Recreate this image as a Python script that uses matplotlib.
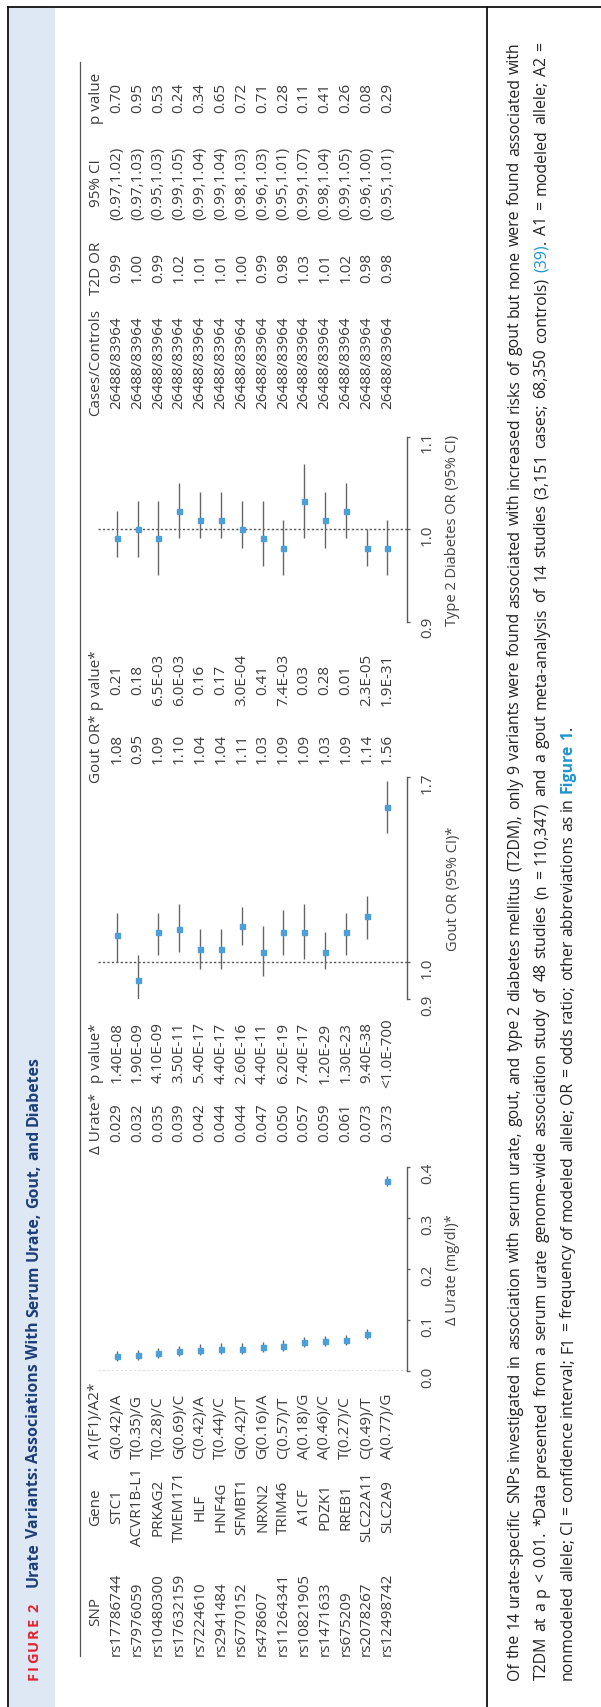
import numpy as np
import matplotlib
matplotlib.use("Agg")
from matplotlib import pyplot as plt
from matplotlib.lines import Line2D
from matplotlib.patches import Rectangle
from matplotlib.ticker import FixedLocator, NullLocator
from matplotlib.transforms import blended_transform_factory


#  -------------------------------------------  data  ------------------------------------------  #

snps = ["rs17786744", "rs7976059", "rs10480300", "rs17632159", "rs7224610", "rs2941484", "rs6770152",
        "rs478607", "rs11264341", "rs10821905", "rs1471633", "rs675209", "rs2078267", "rs12498742"]
genes = ["STC1", "ACVR1B-L1", "PRKAG2", "TMEM171", "HLF", "HNF4G", "SFMBT1",
         "NRXN2", "TRIM46", "A1CF", "PDZK1", "RREB1", "SLC22A11", "SLC2A9"]
alleles = ["G(0.42)/A", "T(0.35)/G", "T(0.28)/C", "G(0.69)/C", "C(0.42)/A", "T(0.44)/C", "G(0.42)/T",
           "G(0.16)/A", "C(0.57)/T", "A(0.18)/G", "A(0.46)/C", "T(0.27)/C", "C(0.49)/T", "A(0.77)/G"]

urate = [0.029, 0.032, 0.035, 0.039, 0.042, 0.044, 0.044, 0.047, 0.050, 0.057, 0.059, 0.061, 0.073, 0.373]
urate_lo = [0.019, 0.022, 0.025, 0.029, 0.032, 0.034, 0.034, 0.037, 0.040, 0.047, 0.049, 0.051, 0.063, 0.363]
urate_hi = [0.039, 0.042, 0.045, 0.049, 0.052, 0.054, 0.054, 0.057, 0.060, 0.067, 0.069, 0.071, 0.083, 0.383]
urate_p = ["1.40E-08", "1.90E-09", "4.10E-09", "3.50E-11", "5.40E-17", "4.40E-17", "2.60E-16",
           "4.40E-11", "6.20E-19", "7.40E-17", "1.20E-29", "1.30E-23", "9.40E-38", "<1.0E-700"]

gout_or = [1.08, 0.95, 1.09, 1.10, 1.04, 1.04, 1.11, 1.03, 1.09, 1.09, 1.03, 1.09, 1.14, 1.56]
gout_lo = [1.00, 0.90, 1.02, 1.03, 0.98, 0.98, 1.05, 0.96, 1.02, 1.01, 0.98, 1.02, 1.07, 1.45]
gout_hi = [1.15, 1.02, 1.15, 1.18, 1.10, 1.10, 1.17, 1.11, 1.16, 1.18, 1.09, 1.15, 1.21, 1.68]
gout_p = ["0.21", "0.18", "6.5E-03", "6.0E-03", "0.16", "0.17", "3.0E-04",
          "0.41", "7.4E-03", "0.03", "0.28", "0.01", "2.3E-05", "1.9E-31"]

cases = ["26488/83964"] * 14
t2d_or = [0.99, 1.00, 0.99, 1.02, 1.01, 1.01, 1.00, 0.99, 0.98, 1.03, 1.01, 1.02, 0.98, 0.98]
t2d_lo = [0.97, 0.97, 0.95, 0.99, 0.99, 0.99, 0.98, 0.96, 0.95, 0.99, 0.98, 0.99, 0.96, 0.95]
t2d_hi = [1.02, 1.03, 1.03, 1.05, 1.04, 1.04, 1.03, 1.03, 1.01, 1.07, 1.04, 1.05, 1.00, 1.01]
t2d_p = ["0.70", "0.95", "0.53", "0.24", "0.34", "0.65", "0.72", "0.71", "0.28", "0.11", "0.41", "0.26", "0.08", "0.29"]

title = "Urate Variants: Associations With Serum Urate, Gout, and Diabetes"
caption = [
    "Of the 14 urate-specific SNPs investigated in association with serum urate, gout, and type 2 diabetes "
    "mellitus (T2DM), only 9 variants were found associated with increased risks of gout but none were "
    "found associated with",
    "T2DM at a p < 0.01. *Data presented from a serum urate genome-wide association study of 48 studies "
    "(n = 110,347) and a gout meta-analysis of 14 studies (3,151 cases; 68,350 controls) (39). A1 = modeled allele; A2 =",
    "nonmodeled allele; CI = confidence interval; F1 = frequency of modeled allele; OR = odds ratio; "
    "other abbreviations as in Figure 1.",
]


#  -------------------------------------------  setup  -----------------------------------------  #

plt.rcParams["font.family"] = ["Open Sans", "DejaVu Sans"]

W, H = 601, 1708
fig = plt.figure(figsize=(W / 100, H / 100), dpi=100)
renderer = fig.canvas.get_renderer()

TXT = "#3c3c3c"
AX = "#5a5a5a"
BLUE = "#4d9fd9"
LINK = "#1e95cf"


def fx(x):
    return x / W


def fy(y):
    return 1 - y / H


# frame, title band and caption divider
fig.add_artist(Rectangle((fx(8), 0), fx(55) - fx(8), fy(8), transform=fig.transFigure,
                         color="#dde8f4", lw=0, zorder=0))
for xs, ys in [((8, 601), (8, 8)), ((8, 8), (8, H)), ((487, 487), (8, H))]:
    fig.add_artist(Line2D([fx(v) for v in xs], [fy(v) for v in ys], transform=fig.transFigure,
                          color="#111111", lw=1.3))
fig.add_artist(Line2D([fx(80), fx(80)], [fy(63), fy(1657)], transform=fig.transFigure, color="#555555", lw=0.9))


#  -------------------------------------------  runs of words  ---------------------------------  #

def length(t):
    return t.get_window_extent(renderer).height


def place_words(x, y0, words, y1=None, size=10.5, color="#222222", weight="normal"):
    # words: list of lists of (text, style) pieces, laid out bottom to top
    placed = []
    for word in words:
        segs = []
        for s, style in word:
            kw = dict(color=color, weight=weight)
            kw.update(style)
            t = fig.text(fx(x), 0, s, rotation=90, rotation_mode="anchor", ha="left", va="center",
                         fontsize=size, **kw)
            segs.append((t, length(t)))
        placed.append(segs)
    probe_a = fig.text(0, 0, "n n", fontsize=size, weight=weight, rotation=90)
    probe_b = fig.text(0, 0, "nn", fontsize=size, weight=weight, rotation=90)
    gap = length(probe_a) - length(probe_b)
    probe_a.remove()
    probe_b.remove()
    total = sum(l for segs in placed for _, l in segs)
    if y1 is not None and len(placed) > 1:
        gap = (y0 - y1 - total) / (len(placed) - 1)
    y = y0
    for segs in placed:
        for t, l in segs:
            t.set_y(fy(y))
            y -= l
        y -= gap


def caption_words(line):
    words = []
    for w in line.split(" "):
        if w == "(39).":
            words.append([("(39)", dict(color=LINK)), (".", {})])
        elif w == "Figure":
            words.append([("Figure", dict(color=LINK, weight="bold"))])
        elif w == "1." and "Figure" in line:
            words.append([("1", dict(color=LINK, weight="bold")), (".", {})])
        else:
            words.append([(w, {})])
    return words


# title
place_words(34, 1680, [[(c, {})] for c in "FIGURE"], y1=1618, size=10.5, color="#e42330", weight="bold")
place_words(34, 1612, [[("2", {})]], size=10.5, color="#e42330", weight="bold")
place_words(34, 1587, [[(w, {})] for w in title.split(" ")], size=11.4, color="#1d3f7a", weight="bold")

# caption
place_words(515, 1680, caption_words(caption[0]), y1=42, size=11.4)
place_words(541.5, 1680, caption_words(caption[1]), y1=42, size=11.4)
place_words(568, 1680, caption_words(caption[2]), size=11.4)


#  -------------------------------------------  forest panels  ---------------------------------  #

rows = np.arange(len(snps))
x_left, x_right = 98, 407
row0, step = 116.7, 20.83
xlim = ((x_left - row0) / step, (x_right - row0) / step)


def panel(y_top, y_bot, lim, ticks, labels, log=False):
    ax = fig.add_axes([fx(x_left), fy(y_bot), fx(x_right) - fx(x_left), fy(y_top) - fy(y_bot)])
    ax.patch.set_visible(False)
    if log:
        ax.set_yscale("log")
    ax.set_xlim(xlim)
    ax.set_ylim(lim)
    for s in ("top", "bottom", "left"):
        ax.spines[s].set_visible(False)
    ax.spines["right"].set_color(AX)
    ax.spines["right"].set_linewidth(1.0)
    ax.spines["right"].set_bounds(*lim)
    ax.xaxis.set_visible(False)
    ax.yaxis.tick_right()
    ax.yaxis.set_major_locator(FixedLocator(ticks))
    ax.yaxis.set_minor_locator(NullLocator())
    ax.set_yticklabels(labels)
    ax.tick_params(axis="y", direction="out", length=2.4, width=0.9, colors=AX, labelcolor="#444444",
                   labelsize=11, pad=7, labelrotation=90)
    return ax


def forest(ax, val, lo, hi, ref):
    val, lo, hi = np.array(val), np.array(lo), np.array(hi)
    ax.axhline(ref, ls=(0, (1.6, 1.6)), lw=1.0, color="#555555", zorder=1)
    ax.errorbar(rows, val, yerr=[val - lo, hi - val], fmt="s", ms=3.6, mfc=BLUE, mec=BLUE,
                ecolor="#666666", elinewidth=1.0, capsize=0, zorder=3)


ax_u = panel(1168, 1372, (0.0, 0.4), [0.0, 0.1, 0.2, 0.3, 0.4], ["0.0", "0.1", "0.2", "0.3", "0.4"])
forest(ax_u, urate, urate_lo, urate_hi, 0.0)

ax_g = panel(778, 1000, (0.9, 1.7), [0.9, 1.0, 1.7], ["0.9", "1.0", "1.7"], log=True)
forest(ax_g, gout_or, gout_lo, gout_hi, 1.0)

ax_t = panel(437.5, 622.5, (0.9, 1.1), [0.9, 1.0, 1.1], ["0.9", "1.0", "1.1"])
forest(ax_t, t2d_or, t2d_lo, t2d_hi, 1.0)

for label, yc in [("\u0394 Urate (mg/dl)*", 1270), ("Gout OR (95% CI)*", 889), ("Type 2 Diabetes OR (95% CI)", 530)]:
    fig.text(fx(453), fy(yc), label, rotation=90, rotation_mode="anchor", ha="center", va="center",
             fontsize=10.5, color="#444444")


#  -------------------------------------------  table  -----------------------------------------  #

tr = blended_transform_factory(ax_u.transData, fig.transFigure)
hdr_row = (96 - row0) / step


def column(y, header, values, ha="center", hy=None, hha=None):
    fig.text(hdr_row, fy(hy if hy is not None else y), header, transform=tr, rotation=90,
             rotation_mode="anchor", ha=hha or ha, va="center", fontsize=11, color=TXT)
    for r, v in zip(rows, values):
        fig.text(r, fy(y), v, transform=tr, rotation=90, rotation_mode="anchor", ha=ha, va="center",
                 fontsize=11, color=TXT)


column(1656, "SNP", snps, ha="left", hy=1612, hha="center")
column(1507, "Gene", genes)
column(1459, "A1(F1)/A2*", alleles, ha="left")
column(1123, "\u0394 Urate*", ["%.3f" % v for v in urate])
column(1053, "p value*", urate_p)
column(749, "Gout OR*", ["%.2f" % v for v in gout_or])
column(680, "p value*", gout_p)
column(363, "Cases/Controls", cases)
column(268, "T2D OR", ["%.2f" % v for v in t2d_or])
column(183, "95% CI", ["(%.2f,%.2f)" % (a, b) for a, b in zip(t2d_lo, t2d_hi)])
column(98, "p value", t2d_p)

fig.savefig("out.png", dpi=100)
